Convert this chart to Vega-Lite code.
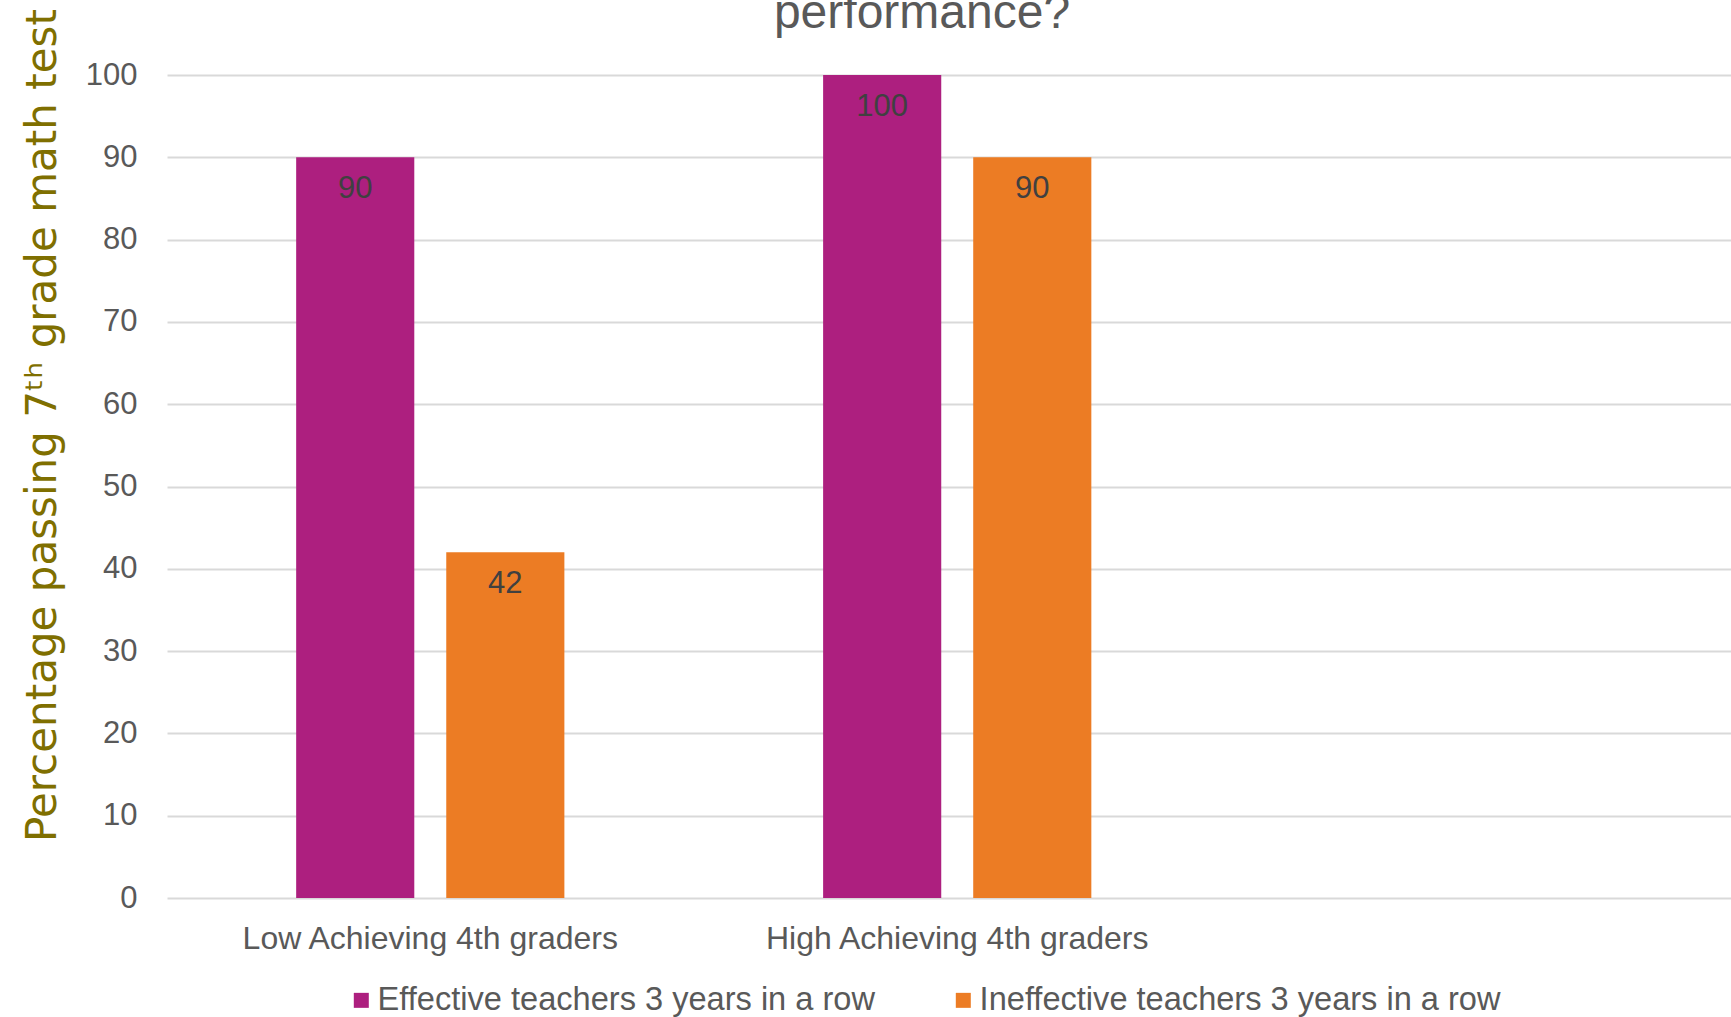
{
  "$schema": "https://vega.github.io/schema/vega-lite/v6.json",
  "description": "Percentage passing 7th grade math test by 4th grade achievement and teacher effectiveness",
  "autosize": {"type": "none"},
  "padding": {"left": 167, "top": 75, "right": 0, "bottom": 119},
  "width": 1564,
  "height": 823,
  "background": "white",
  "title": {
    "text": "performance?",
    "font": "Liberation Sans",
    "fontSize": 48,
    "fontWeight": "normal",
    "color": "#595959",
    "anchor": "middle",
    "dx": -27,
    "baseline": "alphabetic",
    "offset": -67
  },
  "data": {
    "values": [
      {"group": "Low Achieving 4th graders", "teachers": "Effective teachers 3 years in a row", "pct": 90},
      {"group": "Low Achieving 4th graders", "teachers": "Ineffective teachers 3 years in a row", "pct": 42},
      {"group": "High Achieving 4th graders", "teachers": "Effective teachers 3 years in a row", "pct": 100},
      {"group": "High Achieving 4th graders", "teachers": "Ineffective teachers 3 years in a row", "pct": 90}
    ]
  },
  "encoding": {
    "x": {
      "field": "group",
      "type": "nominal",
      "sort": null,
      "scale": {"paddingInner": 0.491, "paddingOuter": 0.7295, "align": 0.168},
      "axis": {
        "title": null,
        "domain": false,
        "ticks": false,
        "grid": false,
        "labelAngle": 0,
        "labelFont": "Liberation Sans",
        "labelFontSize": 32,
        "labelColor": "#595959",
        "labelPadding": 25,
        "labelLimit": 0
      }
    },
    "xOffset": {
      "field": "teachers",
      "type": "nominal",
      "scale": {"paddingInner": 0.213, "paddingOuter": 0}
    },
    "y": {
      "field": "pct",
      "type": "quantitative",
      "scale": {"domain": [0, 100]},
      "axis": {
        "title": "Percentage passing 7ᵗʰ grade math test",
        "titleFont": "DejaVu Sans",
        "titleFontSize": 42,
        "titleFontWeight": "normal",
        "titleColor": "#7F6F00",
        "titleAngle": -90,
        "titleAlign": "center",
        "titleBaseline": "alphabetic",
        "titleX": -112,
        "titleY": 350,
        "values": [0, 10, 20, 30, 40, 50, 60, 70, 80, 90, 100],
        "domain": false,
        "ticks": false,
        "labelFont": "Liberation Sans",
        "labelFontSize": 31,
        "labelColor": "#595959",
        "labelPadding": 30,
        "gridColor": "#d9d9d9",
        "gridWidth": 2
      }
    }
  },
  "layer": [
    {
      "mark": {"type": "bar"},
      "encoding": {
        "color": {
          "field": "teachers",
          "type": "nominal",
          "scale": {
            "domain": ["Effective teachers 3 years in a row", "Ineffective teachers 3 years in a row"],
            "range": ["#AD1F7F", "#EC7C24"]
          },
          "legend": {
            "title": null,
            "orient": "none",
            "legendX": 178,
            "legendY": 909,
            "direction": "horizontal",
            "padding": 0,
            "symbolType": "square",
            "symbolSize": 225,
            "symbolStrokeWidth": 0,
            "symbolOpacity": 1,
            "labelFont": "Liberation Sans",
            "labelFontSize": 32.6,
            "labelColor": "#595959",
            "labelOffset": 0,
            "labelLimit": 0,
            "columnPadding": 72
          }
        }
      }
    },
    {
      "mark": {
        "type": "text",
        "baseline": "middle",
        "dy": 32,
        "font": "Liberation Sans",
        "fontSize": 31,
        "color": "#404040"
      },
      "encoding": {
        "text": {"field": "pct", "type": "quantitative"}
      }
    }
  ],
  "config": {
    "view": {"stroke": null}
  }
}
